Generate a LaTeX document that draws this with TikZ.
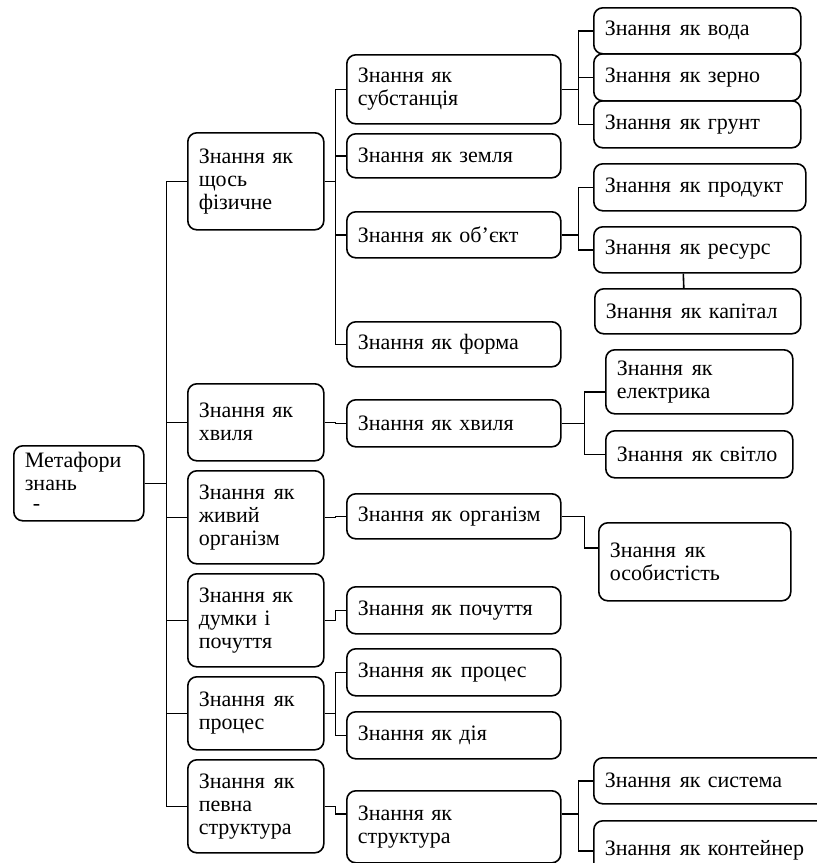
\documentclass[tikz,border=0pt]{standalone}
\usepackage{fontspec}
\setmainfont{Liberation Serif}

\tikzset{
  mbox/.style={draw, line width=1.6pt, rounded corners=9pt, align=left,
    inner xsep=11pt, inner ysep=2pt, font=\fontsize{22}{23}\selectfont},
  link/.style={draw, line width=1.6pt}
}
\newcommand{\gap}{\hspace{0.4em}}

% box from (x1,y1) to (x2,y2), in px of the sheet
\newcommand{\metabox}[6]{%
  \pgfmathsetmacro{\mbW}{#4-#2}%
  \pgfmathsetmacro{\mbH}{#5-#3}%
  \pgfmathsetmacro{\mbT}{#4-#2-22}%
  \node[mbox, anchor=north west, minimum width=\mbW pt, minimum height=\mbH pt,
    text width=\mbT pt] (#1) at (#2,#3) {#6};}

\begin{document}
\begin{tikzpicture}[x=1pt,y=-1pt]
  \useasboundingbox (0,0) rectangle (817,863);

  % Корінь
  \metabox{root}{13}{445}{143}{520}{\\[-12pt]Метафори\\знань\\[-3pt]\hspace*{8pt}-}

  % Перший рівень
  \metabox{fa}{187}{132}{323}{229}{Знання як\\щось\\фізичне}
  \metabox{fb}{187}{383}{323}{460}{Знання як\\хвиля}
  \metabox{fc}{187}{470}{323}{563}{Знання\gap як\\живий\\організм}
  \metabox{fd}{187}{573}{323}{666}{Знання як\\думки і\\почуття}
  \metabox{fe}{187}{676}{323}{749}{Знання\gap як\\процес}
  \metabox{ff}{187}{759}{323}{852}{Знання\gap як\\певна\\структура}

  % Другий рівень
  \metabox{sa}{346}{54}{560}{123}{Знання як\\субстанція}
  \metabox{sb}{346}{133}{560}{177}{Знання як земля}
  \metabox{sc}{346}{211}{560}{257}{Знання як об’єкт}
  \metabox{sd}{346}{321}{560}{366}{Знання як форма}
  \metabox{sh}{346}{399}{560}{446}{Знання як хвиля}
  \metabox{so}{346}{493}{560}{538}{Знання як організм}
  \metabox{sp}{346}{586}{560}{633}{Знання як почуття}
  \metabox{sr}{346}{648}{560}{695}{Знання як\gap процес}
  \metabox{sdia}{346}{711}{560}{758}{Знання як дія}
  \metabox{ss}{346}{790}{560}{862}{Знання як\\структура}

  % Третій рівень
  \metabox{va}{593}{7}{800}{53}{Знання\gap як вода}
  \metabox{vb}{593}{53}{800}{100}{Знання\gap як зерно}
  \metabox{vc}{593}{100}{800}{147}{Знання\gap як грунт}
  \metabox{pa}{593}{163}{805}{210}{Знання\gap як продукт}
  \metabox{pb}{593}{226}{800}{272}{Знання\gap як ресурс}
  \metabox{pc}{594}{288}{800}{333}{Знання\gap як капітал}
  \metabox{ea}{605}{349}{792}{413}{Знання\gap як\\електрика}
  \metabox{eb}{605}{430}{792}{477}{Знання\gap як світло}
  \metabox{oa}{598}{522}{790}{600}{Знання\gap як\\особистість}
  \metabox{ta}{593}{757}{830}{803}{Знання\gap як система}
  \metabox{tb}{593}{820}{830}{880}{Знання\gap як контейнер}

  % Лінії
  \foreach \n in {fa,fb,fc,fd,fe,ff}
    \draw[link] (root.east) -- ++(22,0) |- (\n.west);
  \foreach \n in {sa,sb,sc,sd}
    \draw[link] (fa.east) -- ++(11,0) |- (\n.west);
  \draw[link] (fb.east) -- ++(11,0) |- (sh.west);
  \draw[link] (fc.east) -- ++(11,0) |- (so.west);
  \draw[link] (fd.east) -- ++(11,0) |- (sp.west);
  \draw[link] (fe.east) -- ++(11,0) |- (sr.west);
  \draw[link] (fe.east) -- ++(11,0) |- (sdia.west);
  \draw[link] (ff.east) -- ++(11,0) |- ([yshift=13pt]ss.west);
  \foreach \n in {va,vb,vc}
    \draw[link] (sa.east) -- ++(17,0) |- (\n.west);
  \foreach \n in {pa,pb}
    \draw[link] (sc.east) -- ++(17,0) |- (\n.west);
  \draw[link] ([xshift=-14pt]pb.south) -- ([xshift=-14pt]pc.north);
  \draw[link] (sh.east) -- ++(23,0) |- ([yshift=-10pt]ea.west);
  \draw[link] (sh.east) -- ++(23,0) |- (eb.west);
  \draw[link] (so.east) -- ++(23,0) |- ([yshift=14pt]oa.west);
  \foreach \n in {ta,tb}
    \draw[link] ([yshift=13pt]ss.east) -- ++(17,0) |- (\n.west);
\end{tikzpicture}
\end{document}
